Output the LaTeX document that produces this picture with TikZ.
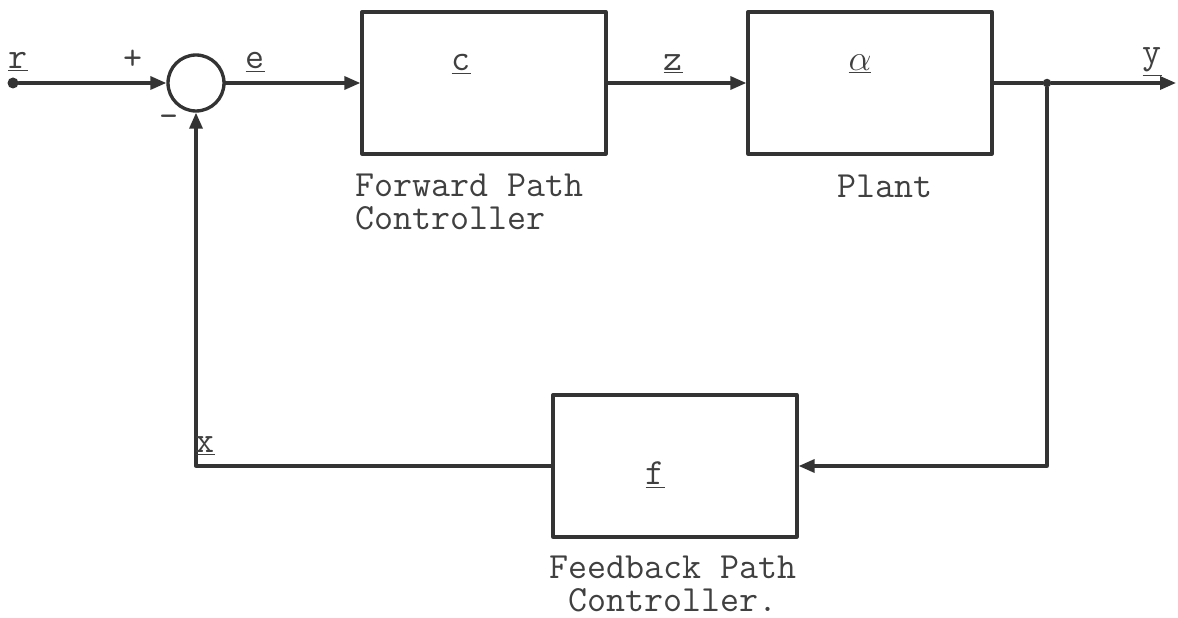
\documentclass[tikz,border=0pt]{standalone}
\usepackage{fontspec}
\usetikzlibrary{arrows.meta}
\definecolor{inkline}{rgb}{0.2,0.2,0.2}
\definecolor{inktext}{rgb}{0.25,0.25,0.25}

\begin{document}
\begin{tikzpicture}[x=0.02cm,y=-0.02cm,line cap=round,line join=round,
  blk/.style={draw=inkline,line width=1.9pt,minimum width=4.88cm,minimum height=2.84cm,inner sep=0pt},
  sig/.style={draw=inkline,line width=1.9pt,-{Triangle[length=0.32cm,width=0.26cm]}},
  wire/.style={draw=inkline,line width=1.9pt},
  lbl/.style={text=inktext,font=\ttfamily\fontsize{21}{18.5}\selectfont,inner sep=0pt}]
  \useasboundingbox (0,0) rectangle (1178,618);
  \node[circle,fill=inkline,inner sep=0pt,minimum size=0.22cm] (rin) at (13,83) {};
  \node[circle,draw=inkline,line width=1.9pt,minimum size=1.12cm,inner sep=0pt] (sum) at (196,83) {};
  \node[blk] (ctrl) at (484,83) {};
  \node[blk] (plant) at (870,83) {};
  \node[blk] (fb) at (675,466) {};
  \node[circle,fill=inkline,inner sep=0pt,minimum size=0.17cm] (jn) at (1047,83) {};
  \coordinate (yout) at (1176,83);
  \draw[sig] (rin) -- (sum);
  \draw[sig] (sum) -- (ctrl);
  \draw[sig] (ctrl) -- (plant);
  \draw[wire] (plant) -- (jn);
  \draw[sig] (jn) -- (yout);
  \draw[sig] (jn) |- (fb);
  \draw[sig] (fb) -| (sum);
  \node[lbl] (rlbl) at (18,62) {\underline{r}};
  \node[lbl] (plus) at (133,60) {+};
  \node[lbl] (minus) at (169,121) {-};
  \node[lbl] (elbl) at (255,62) {\underline{e}};
  \node[lbl] (clbl) at (461,64) {\underline{c}};
  \node[lbl] (zlbl) at (673,64) {\underline{z}};
  \node[lbl] (albl) at (860,64) {$\underline{\alpha}$};
  \node[lbl] (ylbl) at (1152,62) {\underline{y}};
  \node[lbl] (xlbl) at (205,446) {\underline{x}};
  \node[lbl] (flbl) at (655,475) {\underline{f}};
  \node[lbl,anchor=west,align=left] (fwdtxt) at (355,202) {Forward Path\\Controller};
  \node[lbl] (planttxt) at (885,186) {Plant};
  \node[lbl,align=center] (fbtxt) at (673,584) {Feedback Path\\Controller.};
\end{tikzpicture}
\end{document}
